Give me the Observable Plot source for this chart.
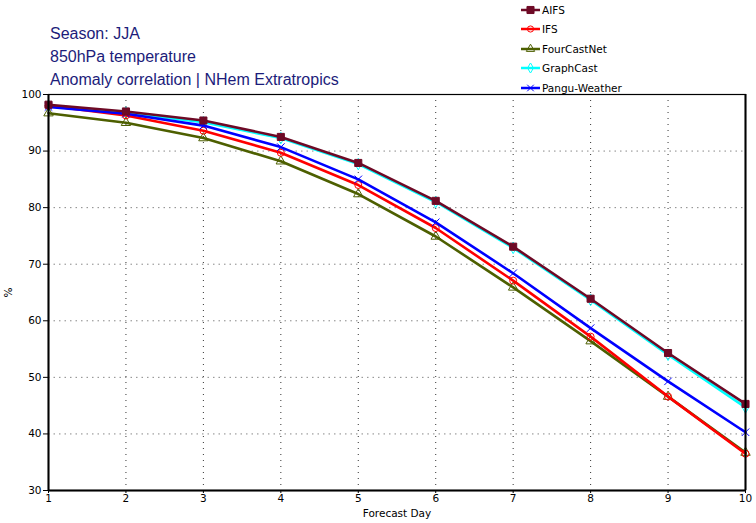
<!DOCTYPE html>
<html>
<head>
<meta charset="utf-8">
<script src="https://cdn.jsdelivr.net/npm/d3@7"></script>
<script src="https://cdn.jsdelivr.net/npm/@observablehq/plot@0.6"></script>
<style>
  html, body { margin: 0; padding: 0; background: #fff; }
  #wrap { position: relative; width: 756px; height: 523px; overflow: hidden; }
  #title { position: absolute; left: 50px; top: 22px; font-family: "Liberation Sans", Arial, sans-serif; font-size: 16px; color: #1c1c7a; line-height: 23px; }
  #legend { position: absolute; left: 520px; top: 0px; font-family: "DejaVu Sans", sans-serif; font-size: 10.5px; color: #000; }
  .row { height: 19.5px; display: flex; align-items: center; }
  .row svg { margin-right: 1px; }
  #chart { position: absolute; left: 0; top: 0; }
</style>
</head>
<body>
<div id="wrap">
  <div id="chart"></div>
  <div id="title"></div>
  <div id="legend"></div>
</div>
<script>
const titleLines = ["Season: JJA", "850hPa temperature", "Anomaly correlation | NHem Extratropics"];
const days = [1, 2, 3, 4, 5, 6, 7, 8, 9, 10];
const yTicks = [30, 40, 50, 60, 70, 80, 90, 100];
const legendOrder = ["AIFS", "IFS", "FourCastNet", "GraphCast", "Pangu-Weather"];
const drawOrder = ["GraphCast", "FourCastNet", "IFS", "Pangu-Weather", "AIFS"];
const colors = ["#6e0a26", "#ff0000", "#4d5f00", "#00ffff", "#0000ff"];
const symbols = ["square", "circle", "triangle", "diamond", "times"];

const aifs        = [98.2, 97.0, 95.4, 92.5, 87.9, 81.2, 73.1, 63.9, 54.3, 45.3];
const ifs         = [98.0, 96.3, 93.6, 89.7, 84.0, 76.4, 67.1, 57.2, 46.6, 36.5];
const fourcastnet = [96.7, 95.0, 92.3, 88.2, 82.4, 74.9, 65.9, 56.4, 46.6, 36.7];
const graphcast   = [98.0, 96.8, 95.1, 92.3, 87.7, 81.0, 72.9, 63.7, 54.0, 44.7];
const pangu       = [97.8, 96.6, 94.5, 90.7, 85.0, 77.4, 68.4, 58.7, 49.3, 40.3];

const seriesValues = {"AIFS": aifs, "IFS": ifs, "FourCastNet": fourcastnet, "GraphCast": graphcast, "Pangu-Weather": pangu};
const rows = drawOrder.flatMap(m => days.map((d, i) => ({model: m, day: d, value: seriesValues[m][i]})));

const colorOf = m => colors[legendOrder.indexOf(m)];
const symOf = m => symbols[legendOrder.indexOf(m)];

const marks = [
  Plot.gridX(days, {stroke: "#333", strokeOpacity: 1, strokeWidth: 1, strokeDasharray: "1,5"}),
  Plot.gridY(yTicks, {stroke: "#888", strokeOpacity: 1, strokeWidth: 1, strokeDasharray: "1.5,4"}),
];
for (const m of drawOrder) {
  const d = rows.filter(r => r.model === m);
  marks.push(Plot.line(d, {x: "day", y: "value", stroke: colorOf(m), strokeWidth: 2.6}));
  marks.push(Plot.dot(d, {x: "day", y: "value", symbol: () => symOf(m), r: m === "AIFS" ? 4 : 3.5,
    stroke: colorOf(m), fill: m === "AIFS" ? colorOf(m) : "none", strokeWidth: 1}));
}
marks.push(Plot.frame({stroke: "#000", strokeWidth: 1.2}));
marks.push(Plot.ruleX([1], {stroke: "#000", strokeWidth: 2}));
marks.push(Plot.ruleX([10], {stroke: "#000", strokeWidth: 2}));
marks.push(Plot.ruleY([30], {stroke: "#000", strokeWidth: 2}));
marks.push(Plot.axisY(yTicks, {tickSize: 5, tickPadding: 2, label: "%", labelAnchor: "center", labelArrow: "none", labelOffset: 44}));
marks.push(Plot.axisX(days, {tickSize: 3, tickPadding: 1, tickFormat: d => String(d), label: "Forecast Day", labelAnchor: "center", labelArrow: "none", labelOffset: 26}));

const chart = Plot.plot({
  width: 756, height: 523,
  marginLeft: 48, marginRight: 11, marginTop: 94, marginBottom: 33,
  x: {domain: [1, 10]},
  y: {domain: [30, 100]},
  style: {fontFamily: "DejaVu Sans, sans-serif", fontSize: "10.5px", color: "#000", background: "#fff"},
  marks
});
document.getElementById("chart").appendChild(chart);

document.getElementById("title").innerHTML = titleLines.map(t => `<div>${t}</div>`).join("");

const symMap = {square: d3.symbolSquare, circle: d3.symbolCircle, triangle: d3.symbolTriangle, diamond: d3.symbolDiamond, times: d3.symbolTimes};
const leg = document.getElementById("legend");
legendOrder.forEach((m, i) => {
  const path = d3.symbol(symMap[symbols[i]], i === 0 ? 50 : 30)();
  const fill = i === 0 ? colors[i] : "none";
  leg.insertAdjacentHTML("beforeend",
    `<div class="row"><svg width="21" height="10"><line x1="1" x2="20" y1="5" y2="5" stroke="${colors[i]}" stroke-width="2.5"/><path d="${path}" transform="translate(10.5,5)" stroke="${colors[i]}" fill="${fill}" stroke-width="1"/></svg><span>${m}</span></div>`);
});
</script>
</body>
</html>
